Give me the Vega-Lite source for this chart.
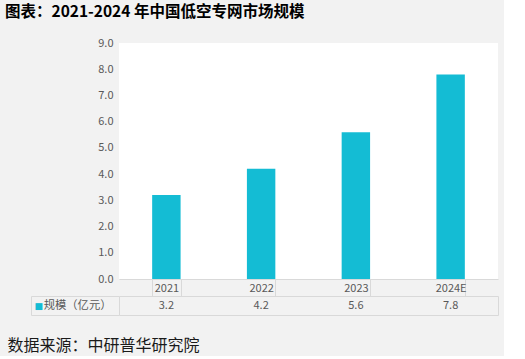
{
  "$schema": "https://vega.github.io/schema/vega-lite/v6.json",
  "background": "#f2f2f2",
  "padding": {"left": 5, "top": 4, "right": 5, "bottom": 2},
  "data": {"values": [
    {"year": "2021", "value": 3.2, "series": "规模（亿元）"},
    {"year": "2022", "value": 4.2, "series": "规模（亿元）"},
    {"year": "2023", "value": 5.6, "series": "规模（亿元）"},
    {"year": "2024E", "value": 7.8, "series": "规模（亿元）"}
  ]},
  "title": {"text": "图表：2021-2024 年中国低空专网市场规模", "anchor": "start", "frame": "bounds", "dx": -2, "offset": 17, "font": "Noto Sans CJK SC", "fontSize": 15.5, "fontWeight": "bold", "color": "#000000"},
  "spacing": 17,
  "bounds": "flush",
  "resolve": {"scale": {"x": "independent"}},
  "vconcat": [
    {
      "width": 379,
      "height": 236,
      "view": {"fill": "#ffffff", "stroke": null},
      "mark": {"type": "bar", "color": "#14BCD4"},
      "encoding": {
        "x": {"field": "year", "type": "ordinal", "sort": null,
          "scale": {"type": "band", "paddingInner": 0.7, "paddingOuter": 0.35},
          "axis": {"title": null, "domainColor": "#d9d9d9", "tickColor": "#d9d9d9", "tickBand": "extent", "tickSize": 17, "labelPadding": -7.5, "labelBaseline": "middle", "labelAngle": 0, "labelColor": "#595959", "labelFontSize": 11, "labelFont": "Noto Sans CJK SC", "grid": false}},
        "y": {"field": "value", "type": "quantitative", "scale": {"domain": [0, 9]},
          "axis": {"title": null, "values": [0, 1, 2, 3, 4, 5, 6, 7, 8, 9], "format": ".1f", "domain": false, "ticks": false, "grid": false, "labelPadding": 6, "labelColor": "#595959", "labelFontSize": 11, "labelFont": "Noto Sans CJK SC"}}
      }
    },
    {
      "width": 379,
      "height": 19,
      "view": {"stroke": "#d9d9d9", "fill": null},
      "title": {"text": "数据来源：中研普华研究院", "orient": "bottom", "anchor": "start", "frame": "bounds", "dx": -23, "offset": 22, "font": "Noto Sans CJK SC", "fontSize": 16, "fontWeight": "normal", "color": "#1a1a1a"},
      "layer": [
        {
          "mark": {"type": "text", "color": "#595959", "fontSize": 11, "font": "Noto Sans CJK SC"},
          "encoding": {
            "x": {"field": "year", "type": "ordinal", "sort": null, "scale": {"type": "band", "padding": 0},
              "axis": {"title": null, "labels": false, "ticks": false, "domain": false, "grid": true, "gridColor": "#d9d9d9", "bandPosition": 0}},
            "y": {"field": "series", "type": "nominal", "scale": {"padding": 0},
              "axis": {"orient": "left", "title": null, "domain": false, "grid": false, "tickBand": "extent", "tickSize": 88, "tickColor": "#d9d9d9", "labelPadding": -80, "labelColor": "#595959", "labelFontSize": 11.3, "labelFont": "Noto Sans CJK SC"}},
            "text": {"field": "value", "type": "quantitative", "format": ".1f"}
          }
        },
        {
          "mark": {"type": "text", "opacity": 0},
          "encoding": {
            "x": {"field": "year", "type": "ordinal", "sort": null, "scale": {"type": "band", "padding": 0}, "axis": null},
            "y": {"field": "series", "type": "nominal", "scale": {"padding": 0},
              "axis": {"orient": "left", "offset": 88, "title": null, "domain": true, "domainColor": "#d9d9d9", "ticks": false, "grid": false, "labelExpr": "'■'", "labelColor": "#14BCD4", "labelAlign": "left", "labelPadding": -3, "labelFontSize": 9, "labelFont": "DejaVu Sans"}},
            "text": {"field": "value", "type": "quantitative", "format": ".1f"}
          }
        }
      ],
      "resolve": {"scale": {"y": "independent"}, "axis": {"y": "independent"}}
    }
  ]
}
